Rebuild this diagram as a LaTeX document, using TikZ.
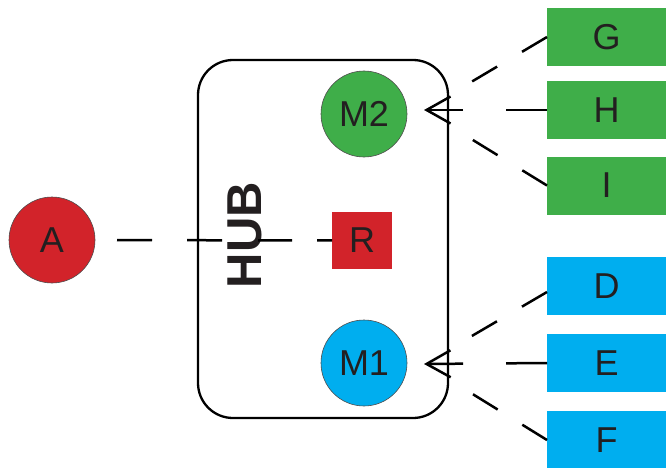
\documentclass[tikz,border=0pt]{standalone}
\usepackage{fontspec}
\setmainfont{Liberation Sans}
\usepackage{tikz,tkz-graph}
\usetikzlibrary{arrows.meta}
\definecolor{hubred}{HTML}{D2232A}
\definecolor{hubgreen}{HTML}{3FAE49}
\definecolor{hubblue}{HTML}{00AEEF}
\definecolor{ink}{HTML}{231F20}

\begin{document}
\begin{tikzpicture}[x = 1pt, y = -1pt]
\tikzstyle{VertexStyle} = []
\tikzstyle{EdgeStyle} = []
\tikzstyle{roundStyle}=[shape = circle, minimum size = 86pt, inner sep = 0pt, draw = ink!80, line width = 0.6pt, text = ink, font = \fontsize{36}{40}\selectfont]
\tikzstyle{boxStyle}=[shape = rectangle, minimum width = 119pt, minimum height = 58pt, inner sep = 0pt, text = ink, font = \fontsize{36}{40}\selectfont]
\tikzstyle{linkStyle}=[line width = 2.5pt, dash pattern = on 29pt off 29pt on 29pt off 60pt]
\tikzstyle{barbStyle}=[line width = 2.5pt, dash pattern = on 41pt off 43pt on 50pt, -{Straight Barb[length = 24pt, width = 27pt]}]
\useasboundingbox (0,0) rectangle (666,468);
\node[draw, line width = 2.3pt, rounded corners = 35pt, minimum width = 250pt, minimum height = 358pt, inner sep = 0pt] (hub) at (323,239) {};
\node[rotate = 90, inner sep = 0pt, text = ink, font = \fontsize{49}{50}\selectfont\bfseries] (hubLabel) at (245,235) {HUB};
\Vertex[style = {roundStyle, fill = hubred}, x = 52, y = 240, L = {A}]{A}
\Vertex[style = {boxStyle, fill = hubred, minimum width = 60pt, minimum height = 57pt}, x = 362, y = 240.5, L = {R}]{R}
\Vertex[style = {roundStyle, fill = hubgreen}, x = 364, y = 114, L = {M2}]{M2}
\Vertex[style = {roundStyle, fill = hubblue}, x = 364, y = 363, L = {M1}]{M1}
\Vertex[style = {boxStyle, fill = hubgreen}, x = 606.5, y = 37, L = {G}]{G}
\Vertex[style = {boxStyle, fill = hubgreen}, x = 606.5, y = 110, L = {H}]{H}
\Vertex[style = {boxStyle, fill = hubgreen}, x = 606.5, y = 185.5, L = {I}]{I}
\Vertex[style = {boxStyle, fill = hubblue}, x = 606.5, y = 286, L = {D}]{D}
\Vertex[style = {boxStyle, fill = hubblue}, x = 606.5, y = 363, L = {E}]{E}
\Vertex[style = {boxStyle, fill = hubblue}, x = 606.5, y = 440, L = {F}]{F}
\coordinate (m2tip) at (424,110);
\coordinate (m1tip) at (424,364);
\path [linkStyle, dash pattern = on 0pt off 22pt on 35pt off 35pt on 35pt off 36pt on 34pt off 25pt on 20pt]
(A) edge (R);
\path [linkStyle]
(G.west) edge (m2tip)
(I.west) edge (m2tip)
([yshift=-6pt]D.west) edge (m1tip)
(F.west) edge (m1tip);
\path [barbStyle]
(H.west) edge (m2tip)
(E.west) edge (m1tip);
\end{tikzpicture}
\end{document}
